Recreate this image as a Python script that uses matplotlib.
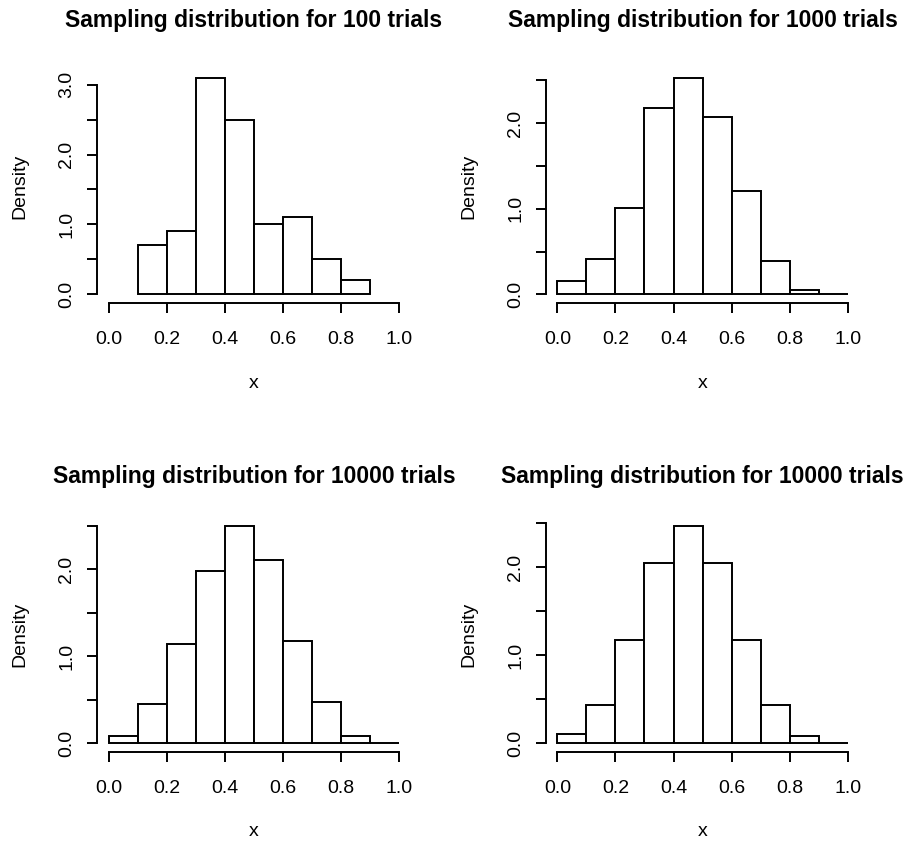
import matplotlib
matplotlib.use('Agg')
import matplotlib.pyplot as plt
import numpy as np

plt.rcParams['font.family'] = ['Liberation Sans', 'DejaVu Sans']

# histogram data (bin left edges, density)
titles = ["Sampling distribution for 100 trials",
          "Sampling distribution for 1000 trials",
          "Sampling distribution for 10000 trials",
          "Sampling distribution for 10000 trials"]
bins_100 = [0.1, 0.2, 0.3, 0.4, 0.5, 0.6, 0.7, 0.8]
dens_100 = [0.70, 0.90, 3.10, 2.50, 1.00, 1.10, 0.50, 0.20]
bins_full = [0.0, 0.1, 0.2, 0.3, 0.4, 0.5, 0.6, 0.7, 0.8, 0.9]
dens_1000 = [0.16, 0.41, 1.01, 2.17, 2.53, 2.07, 1.21, 0.39, 0.05, 0.0]
dens_10000a = [0.08, 0.45, 1.14, 1.98, 2.50, 2.11, 1.18, 0.47, 0.08, 0.0]
dens_10000b = [0.10, 0.43, 1.17, 2.05, 2.47, 2.05, 1.17, 0.43, 0.08, 0.0]
ytop = [3.0, 2.5, 2.5, 2.5]
xticks = [0.0, 0.2, 0.4, 0.6, 0.8, 1.0]

panels = [(bins_100, dens_100), (bins_full, dens_1000),
          (bins_full, dens_10000a), (bins_full, dens_10000b)]

W, H = 906, 843
fig = plt.figure(figsize=(W / 100, H / 100), dpi=100)

# plot regions in pixels: left x, top y, bottom y
col_left = [97, 545.7]
col_w = 313.7
rows = [(69, 303), (517, 752)]
title_y = [21, 476]

lw = 1.4
fs = 14

for i, (bins, dens) in enumerate(panels):
    r, c = divmod(i, 2)
    top, bot = rows[r]
    ax = fig.add_axes([col_left[c] / W, (H - bot) / H, col_w / W, (bot - top) / H])
    ax.bar(bins, dens, width=0.1, align='edge', facecolor='white',
           edgecolor='black', linewidth=lw)
    ymax = max(dens)
    ax.set_xlim(-0.04, 1.04)
    ax.set_ylim(-0.04 * ymax, 1.04 * ymax)

    for s in ['top', 'right']:
        ax.spines[s].set_visible(False)
    for s in ['left', 'bottom']:
        ax.spines[s].set_linewidth(lw)
    ax.spines['bottom'].set_bounds(0, 1)
    ax.spines['left'].set_bounds(0, ytop[i])

    ax.set_xticks(xticks)
    ax.set_xticklabels(['%.1f' % v for v in xticks])
    yt = np.arange(0, ytop[i] + 0.01, 0.5)
    ax.set_yticks(yt)
    ax.set_yticklabels(['%.1f' % v if abs(v - round(v)) < 1e-9 else '' for v in yt])

    ax.tick_params(axis='both', direction='out', length=7.2, width=lw,
                   labelsize=fs)
    ax.tick_params(axis='x', pad=13.2)
    ax.tick_params(axis='y', pad=8.4, labelrotation=90)
    for t in ax.get_yticklabels():
        t.set_va('center')

    ax.set_xlabel('x', fontsize=fs)
    ax.xaxis.set_label_coords(0.5, -(80) / (bot - top))
    ax.xaxis.label.set_va('center')
    ax.set_ylabel('Density', fontsize=fs)
    ax.yaxis.set_label_coords(-(97 - 20) / col_w, 0.5)
    ax.yaxis.label.set_va('center')

    ax.text(0.5, 1 + (top - title_y[r]) / (bot - top), titles[i],
            transform=ax.transAxes, ha='center', va='center',
            fontsize=16.5, fontweight='bold')

fig.savefig('out.png', dpi=100)
